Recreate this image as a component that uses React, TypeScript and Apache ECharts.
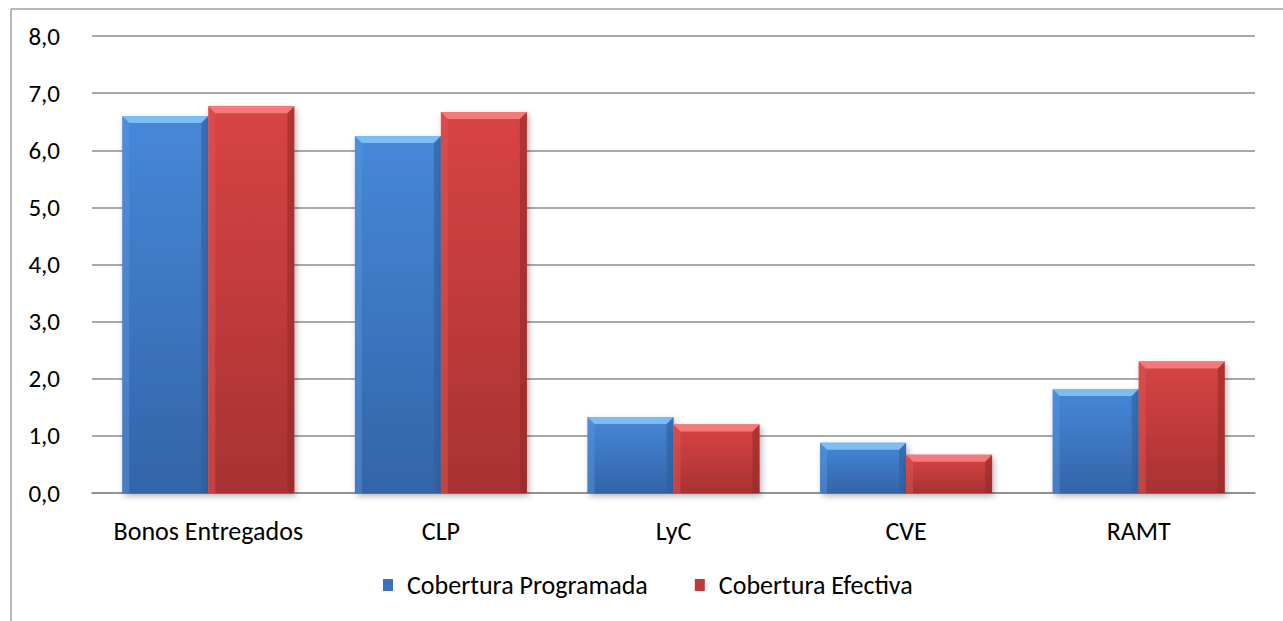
import React, { useEffect, useRef } from "react";
import * as echarts from "echarts";

const categories = ["Bonos Entregados", "CLP", "LyC", "CVE", "RAMT"];
const programada = [6.6, 6.25, 1.33, 0.88, 1.82];
const efectiva = [6.77, 6.67, 1.2, 0.67, 2.3];
const seriesNames = ["Cobertura Programada", "Cobertura Efectiva"];
const yTicks = [0, 1, 2, 3, 4, 5, 6, 7, 8];

const FONT = "Carlito, Lato, sans-serif";

const palettes = [
  { top: "#4688d8", bottom: "#3464a8", bevel: "#7cbdf4", left: "#5594dd", right: "#2f5f9f", legend: "#3b70bd" },
  { top: "#d84444", bottom: "#a83232", bevel: "#f47a7a", left: "#dd5454", right: "#962a2a", legend: "#c03a3a" },
];

function makeRender(si: number) {
  const p = palettes[si];
  return (params: any, api: any) => {
    const cat = api.value(0);
    const val = api.value(1);
    const base = api.coord([cat, 0]);
    const topPt = api.coord([cat, val]);
    const bw = 86;
    const x = si === 0 ? base[0] - bw : base[0];
    const y = topPt[1];
    const h = base[1] - topPt[1];
    const b = 7;
    return {
      type: "group",
      children: [
        {
          type: "rect",
          shape: { x, y, width: bw, height: h },
          style: {
            fill: new echarts.graphic.LinearGradient(0, 0, 0, 1, [
              { offset: 0, color: p.top },
              { offset: 1, color: p.bottom },
            ]),
            shadowBlur: 6,
            shadowOffsetX: 2,
            shadowOffsetY: 3,
            shadowColor: "rgba(0,0,0,0.3)",
          },
        },
        {
          type: "polygon",
          shape: { points: [[x, y], [x + b, y + b], [x + b, y + h], [x, y + h]] },
          style: { fill: p.left, opacity: 0.5 },
        },
        {
          type: "polygon",
          shape: { points: [[x + bw, y], [x + bw - b, y + b], [x + bw - b, y + h], [x + bw, y + h]] },
          style: { fill: p.right, opacity: 0.6 },
        },
        {
          type: "polygon",
          shape: { points: [[x, y], [x + bw, y], [x + bw - b, y + b], [x + b, y + b]] },
          style: { fill: p.bevel },
        },
      ],
    };
  };
}

export default function App() {
  const ref = useRef<HTMLDivElement>(null);
  useEffect(() => {
    document.body.style.margin = "0";
    const chart = echarts.init(ref.current!, null, { renderer: "svg" });
    const mk = (arr: number[]) => arr.map((v, i) => [i, v]);
    chart.setOption({
      animation: false,
      backgroundColor: "#ffffff",
      grid: { left: 92, right: 28, top: 36, bottom: 128 },
      legend: {
        bottom: 18,
        left: 378,
        icon: "rect",
        itemWidth: 10,
        itemHeight: 12,
        itemGap: 47,
        textStyle: { fontFamily: FONT, fontSize: 26, color: "#000", padding: [0, 0, 0, 9] },
        data: seriesNames,
      },
      xAxis: {
        type: "category",
        data: categories,
        axisLine: { show: true, lineStyle: { color: "#8c8c8c", width: 1.5 } },
        axisTick: { show: false },
        axisLabel: { fontFamily: FONT, fontSize: 26, color: "#000", margin: 25, interval: 0 },
      },
      yAxis: {
        type: "value",
        min: yTicks[0],
        max: yTicks[yTicks.length - 1],
        interval: 1,
        axisLine: { show: false },
        axisTick: { show: false },
        axisLabel: {
          fontFamily: FONT,
          fontSize: 25,
          color: "#000",
          margin: 32,
          formatter: (v: number) => v.toFixed(1).replace(".", ","),
        },
        splitLine: { lineStyle: { color: "#8c8c8c", width: 1.5 } },
      },
      graphic: [
        { type: "line", shape: { x1: 11, y1: 9, x2: 1283, y2: 9 }, style: { stroke: "#a0a0a0", lineWidth: 1.5 } },
        { type: "line", shape: { x1: 11, y1: 9, x2: 11, y2: 621 }, style: { stroke: "#a0a0a0", lineWidth: 1.5 } },
      ],
      series: [
        {
          name: seriesNames[0],
          type: "custom",
          renderItem: makeRender(0),
          itemStyle: { color: palettes[0].legend },
          encode: { x: 0, y: 1 },
          data: mk(programada),
        },
        {
          name: seriesNames[1],
          type: "custom",
          renderItem: makeRender(1),
          itemStyle: { color: palettes[1].legend },
          encode: { x: 0, y: 1 },
          data: mk(efectiva),
        },
      ],
    });
    return () => chart.dispose();
  }, []);
  return <div ref={ref} style={{ width: 1283, height: 621 }} />;
}
